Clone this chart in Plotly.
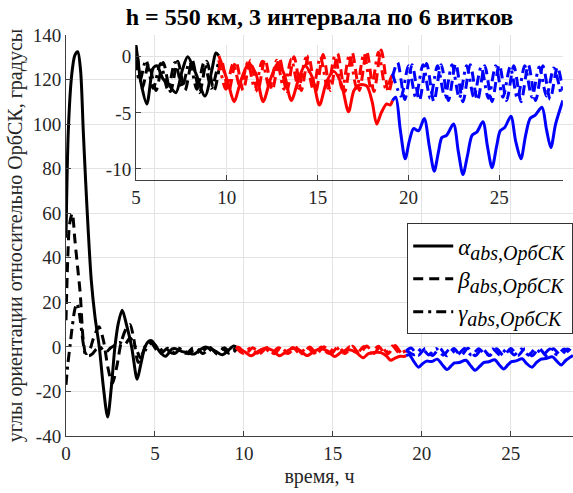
import plotly.graph_objects as go

# ---------------- data ----------------
T_ALPHA = [0, 0.13, 0.32, 0.5, 0.66, 0.82, 0.97, 1.1, 1.25, 1.42,
           1.63, 1.87, 2.1, 2.34, 2.55, 2.75, 2.95, 3.16, 3.4, 3.69,
           4.0, 4.2, 4.44, 4.65, 4.81, 5.0, 5.3, 5.6, 5.95, 6.15,
           6.5, 6.85, 7.2, 7.55, 7.85, 8.3, 8.8, 9.2, 9.4, 9.56,
           9.8, 10.1, 10.4, 10.8, 11.2, 11.6, 12.0, 12.4, 12.8, 13.15,
           13.55, 13.95, 14.3, 14.7, 15.1, 15.5, 15.9, 16.3, 16.7, 17.0,
           17.3, 17.7, 18.0, 18.25, 18.5, 18.8, 19.0, 19.12,
           19.3, 19.55, 19.82, 20.05, 20.28, 20.55, 20.87, 21.15, 21.42, 21.65,
           21.84, 22.1, 22.48, 22.75, 23.0, 23.25, 23.5, 23.77, 24.1, 24.35,
           24.6, 24.85, 25.05, 25.3, 25.64, 25.9, 26.19, 26.45, 26.7, 26.98,
           27.35, 27.6, 27.84, 28.1, 28.5]
ALPHA = [49, 97, 122, 131, 132.5, 124, 97, 75, 52, 30,
         13.5, 0, -18, -31.5, -18, 0, 11, 16.5, 10, 0,
         -14.5, -8, 0, 2.5, 2.8, 1.0, -2.5, -4.2, -1.0, -0.8,
         -2.0, -2.6, -3.2, -1.2, 0.0, -1.5, -3.5, -1.0, 0.35, 0.1,
         -1.0, -2.5, -4.0, -2.0, -0.6, -1.5, -4.0, -2.0, -0.6, -1.5,
         -3.9, -2.0, -0.8, -1.8, -4.3, -2.2, -1.3, -2.4, -4.9, -3.0,
         -2.5, -2.6, -4.0, -6.0, -5.0, -4.2, -4.3, -3.9,
         -3.6, -6.5, -9.1, -7.5, -6.4, -6.6, -5.5, -8.0, -10.2, -8.5,
         -7.2, -7.0, -6.0, -8.5, -10.5, -8.8, -7.0, -6.7, -5.8, -8.0,
         -9.9, -8.0, -6.6, -6.3, -5.3, -7.5, -9.1, -7.0, -5.5, -5.2,
         -4.5, -6.5, -8.1, -6.0, -3.9]

T_BETA = [0, 0.1, 0.2, 0.35, 0.5, 0.65, 0.8, 0.97, 1.12, 1.3,
          1.55, 1.85, 2.1, 2.35, 2.6, 2.85, 3.1, 3.4, 3.6, 3.8,
          4.06, 4.3, 4.6, 5.0, 5.35, 5.7, 6.1, 6.5, 6.9, 7.3,
          7.7, 8.1, 8.5, 8.9, 9.3, 9.56, 9.7, 10.1, 10.5, 10.9,
          11.3, 11.7, 12.1, 12.5, 12.9, 13.3, 13.7, 14.1, 14.5, 14.9,
          15.3, 15.7, 16.1, 16.5, 16.9, 17.3, 17.7, 18.1, 18.5, 18.9,
          19.12,
          19.4, 19.8, 20.2, 20.6, 21.0, 21.4, 21.8, 22.2, 22.6, 23.0,
          23.4, 23.8, 24.2, 24.6, 25.0, 25.4, 25.8, 26.2, 26.6, 27.0,
          27.4, 27.8, 28.2, 28.5]
BETA = [12, 40, 55, 60, 48, 36, 24, 3, -3, -2,
        4, 9, 3, -9, -16.5, -9, 2, 8.5, 10, 4,
        -7, -3, 2.3, 0.8, -2.8, -0.6, -3.0, -0.5, -3.1, -0.4,
        -3.0, -0.3, -3.2, -0.4, -3.0, -1.2, -0.2, -3.1, -0.4, -3.0,
        -0.3, -3.1, -0.2, -3.0, -0.1, -3.1, 0.0, -3.0, 0.1, -3.1,
        0.2, -3.0, 0.3, -3.1, 0.4, -3.0, 0.5, -3.1, 0.6, -3.2,
        -1.8,
        -0.5, -3.8, -0.7, -3.9, -0.6, -4.0, -0.7, -3.9, -0.6, -4.0,
        -0.7, -3.9, -0.8, -4.0, -0.7, -3.9, -0.8, -4.0, -0.7, -3.9,
        -0.8, -3.8, -0.9, -3.0]

T_GAMMA = [0, 0.1, 0.22, 0.35, 0.5, 0.62, 0.75, 0.88, 1.0, 1.1,
           1.3, 1.5, 1.7, 1.9, 2.1, 2.3, 2.5, 2.7, 3.0, 3.3,
           3.6, 3.9, 4.2, 4.5, 4.8, 5.2, 5.55, 5.95, 6.35, 6.75,
           7.15, 7.55, 7.95, 8.35, 8.75, 9.15, 9.56, 9.95, 10.35, 10.75,
           11.15, 11.55, 11.95, 12.35, 12.75, 13.15, 13.55, 13.95, 14.35, 14.75,
           15.15, 15.55, 15.95, 16.35, 16.75, 17.15, 17.55, 17.95, 18.35, 18.75,
           19.12, 19.6, 20.0, 20.4, 20.8, 21.2, 21.6, 22.0, 22.4, 22.8,
           23.2, 23.6, 24.0, 24.4, 24.8, 25.2, 25.6, 26.0, 26.4, 26.8,
           27.2, 27.6, 28.0, 28.4]
GAMMA = [-17, -8, 0, 9, 17, 19.5, 15, 7, 0, -3.5,
         -4, -3, -1, 0, -1.5, -2, -0.5, 0.5, 2, 1,
         4, 0, -5, -1, 1.5, -2.2, -0.3, -2.8, -0.6, -2.9,
         -0.5, -2.7, -0.4, -2.9, -0.5, -2.8, -0.3, -2.9, -0.6, -2.8,
         -0.5, -2.9, -0.4, -2.8, -0.3, -2.9, -0.2, -2.8, -0.1, -2.9,
         0.0, -2.8, 0.1, -2.9, 0.2, -2.8, 0.3, -2.9, 0.4, -2.8,
         -1.5, -3.5, -0.8, -3.6, -0.7, -3.7, -0.8, -3.6, -0.7, -3.7,
         -0.8, -3.6, -0.9, -3.7, -0.8, -3.6, -0.9, -3.7, -0.8, -3.6,
         -0.9, -3.5, -1.0, -3.4]

# three intervals of 6 orbits each (h)
INTERVAL_BOUNDS = [9.56, 19.12]
INTERVAL_COLORS = ["#000000", "#ff0000", "#0000ff"]

SUB = "<sub><span style='font-size:20px'><i>abs,ОрбСК</i></span></sub>"
SERIES_NAMES = ["<i>α</i>" + SUB, "<i>β</i>" + SUB, "<i>γ</i>" + SUB]

MAIN_X_TICKS = [0, 5, 10, 15, 20, 25]
MAIN_Y_TICKS = [-40, -20, 0, 20, 40, 60, 80, 100, 120, 140]
INSET_X_TICKS = [5, 10, 15, 20, 25]
INSET_Y_TICKS = [-10, -5, 0]

TITLE = "<b>h = 550 км, 3 интервала по 6 витков</b>"
X_TITLE = "время, ч"
Y_TITLE = "углы ориентации относительно ОрбСК, градусы"

for a, b in [(T_ALPHA, ALPHA), (T_BETA, BETA), (T_GAMMA, GAMMA)]:
    assert len(a) == len(b), (len(a), len(b))

# ---------------- figure ----------------
FONT = "Liberation Serif, Times New Roman, serif"
TXT = "#262626"
GRID = "#e3e3e3"
AX = "#404040"

DASHES = ["solid", "10px,6px", "10px,5px,3px,5px"]


def split(t, v):
    b1, b2 = INTERVAL_BOUNDS
    segs = [([], []), ([], []), ([], [])]
    for ti, vi in zip(t, v):
        if ti <= b1:
            segs[0][0].append(ti); segs[0][1].append(vi)
        if b1 <= ti <= b2:
            segs[1][0].append(ti); segs[1][1].append(vi)
        if ti >= b2:
            segs[2][0].append(ti); segs[2][1].append(vi)
    return segs


fig = go.Figure()
series = [(T_ALPHA, ALPHA), (T_BETA, BETA), (T_GAMMA, GAMMA)]
for axes in [("x", "y"), ("x2", "y2")]:
    for si, (t, v) in enumerate(series):
        for k, (ts, vs) in enumerate(split(t, v)):
            fig.add_trace(go.Scatter(
                x=ts, y=vs, xaxis=axes[0], yaxis=axes[1], mode="lines",
                line=dict(color=INTERVAL_COLORS[k], width=3, dash=DASHES[si],
                          shape="spline", smoothing=0.8),
                name=SERIES_NAMES[si],
                showlegend=(axes[0] == "x" and k == 0),
                hoverinfo="skip"))


def tt(vals):
    return [str(v) for v in vals]


axis_common = dict(showline=True, linecolor=AX, linewidth=1, ticks="inside",
                   ticklen=5, tickcolor=AX, showgrid=True, gridcolor=GRID,
                   gridwidth=1, zeroline=False, mirror=False, automargin=False,
                   tickfont=dict(family=FONT, size=19, color=TXT))

fig.update_layout(
    width=573, height=493,
    margin=dict(l=66, r=0, t=35, b=57, autoexpand=False),
    paper_bgcolor="white", plot_bgcolor="rgba(0,0,0,0)",
    font=dict(family=FONT, color=TXT),
    title=dict(text=TITLE, x=0.5, xref="paper", xanchor="center",
               y=1 - 17 / 493, yref="container", yanchor="middle",
               font=dict(family=FONT, size=24, color="black")),
    xaxis=dict(range=[0, 28.5], tickvals=MAIN_X_TICKS, ticktext=tt(MAIN_X_TICKS),
               domain=[0, 1], anchor="y",
               title=dict(text=X_TITLE, font=dict(family=FONT, size=20, color=TXT), standoff=6),
               **axis_common),
    yaxis=dict(range=[-40, 140], tickvals=MAIN_Y_TICKS, ticktext=tt(MAIN_Y_TICKS),
               domain=[0, 1], anchor="x",
               title=dict(text=Y_TITLE, font=dict(family=FONT, size=20, color=TXT), standoff=4),
               **axis_common),
    xaxis2=dict(range=[5, 28.5], tickvals=INSET_X_TICKS, ticktext=tt(INSET_X_TICKS),
                domain=[0.138, 0.98], anchor="y2", **axis_common),
    yaxis2=dict(range=[-11, 1.05], tickvals=INSET_Y_TICKS, ticktext=tt(INSET_Y_TICKS),
                domain=[0.638, 0.975], anchor="x2", **axis_common),
    legend=dict(x=0.673, y=0.53, xanchor="left", yanchor="top",
                bgcolor="white", bordercolor="#333333", borderwidth=1,
                font=dict(family=FONT, size=23, color="black"),
                itemwidth=40, tracegroupgap=0),
    showlegend=True,
)

fig.write_html(
    "out.html",
    config={"displayModeBar": False},
    post_script="document.body.style.margin='0px';document.body.style.overflow='hidden';",
)
